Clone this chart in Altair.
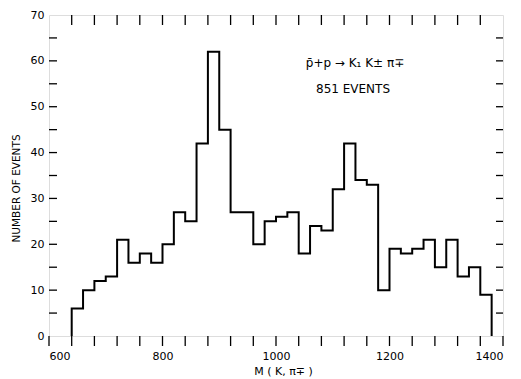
import altair as alt
import pandas as pd

# Histogram: bin left edges (MeV) and counts, 20 MeV bins
bin_edges = [640, 660, 680, 700, 720, 740, 760, 780, 800, 820, 840, 860, 880, 900,
             920, 940, 960, 980, 1000, 1020, 1040, 1060, 1080, 1100, 1120, 1140,
             1160, 1180, 1200, 1220, 1240, 1260, 1280, 1300, 1320, 1340, 1360]
counts = [6, 10, 12, 13, 21, 16, 18, 16, 20, 27, 25, 42, 62, 45,
          27, 27, 20, 25, 26, 27, 18, 24, 23, 32, 42, 34,
          33, 10, 19, 18, 19, 21, 15, 21, 13, 15, 9]
bin_width = 20

x_ticks = list(range(600, 1401, 40))
x_labels = [600, 800, 1000, 1200, 1400]
y_ticks = list(range(5, 70, 5))
y_labels = [0, 10, 20, 30, 40, 50, 60, 70]

# step outline points
xs = [bin_edges[0]] + bin_edges + [bin_edges[-1] + bin_width, bin_edges[-1] + bin_width]
ys = [0] + counts + [counts[-1], 0]
hist = pd.DataFrame({"m": xs, "n": ys, "i": list(range(len(xs)))})

W, H = 454, 321
FONT = "DejaVu Sans"

xscale = alt.Scale(domain=[600, 1400], nice=False, zero=False)
yscale = alt.Scale(domain=[0, 70], nice=False)

line = alt.Chart(hist).mark_line(
    interpolate="step-after", color="black", strokeWidth=2
).encode(
    x=alt.X("m:Q", scale=xscale, axis=alt.Axis(
        values=x_labels, format="d", labelOverlap=False,
        ticks=False, domain=False, grid=False,
        labelFont=FONT, labelFontSize=11, labelColor="black", labelPadding=14,
        title="M ( K, π∓ )", titleFont=FONT, titleFontSize=11, titleFontWeight="normal",
        titleColor="black", titleX=234, titleY=35, titleBaseline="middle")),
    y=alt.Y("n:Q", scale=yscale, axis=alt.Axis(
        values=y_labels, ticks=False, domain=False, grid=False, labelOverlap=False,
        labelFont=FONT, labelFontSize=11, labelColor="black", labelPadding=5,
        title="NUMBER OF EVENTS", titleFont=FONT, titleFontSize=10.5,
        titleFontWeight="normal", titleColor="black",
        titleX=-33, titleY=173, titleAlign="center", titleBaseline="middle")),
    order="i:Q",
)

top_ticks = alt.Chart(pd.DataFrame({"t": x_ticks[1:-1]})).mark_rule(
    color="black", strokeWidth=1.3
).encode(x=alt.X("t:Q", scale=xscale), y=alt.value(0), y2=alt.value(10))

bottom_ticks = alt.Chart(pd.DataFrame({"t": x_ticks})).mark_rule(
    color="black", strokeWidth=1.3
).encode(x=alt.X("t:Q", scale=xscale), y=alt.value(H), y2=alt.value(H + 10))

left_ticks = alt.Chart(pd.DataFrame({"t": y_ticks})).mark_rule(
    color="black", strokeWidth=1.3
).encode(y=alt.Y("t:Q", scale=yscale), x=alt.value(0), x2=alt.value(8))

right_ticks = alt.Chart(pd.DataFrame({"t": y_ticks})).mark_rule(
    color="black", strokeWidth=1.3
).encode(y=alt.Y("t:Q", scale=yscale), x=alt.value(W - 7), x2=alt.value(W))

ann1 = alt.Chart(pd.DataFrame({"s": ["p\u0304+p \u2192 K\u2081 K\u00b1 \u03c0\u2213"]})).mark_text(
    font=FONT, fontSize=12, color="black", align="center", baseline="middle"
).encode(text="s:N", x=alt.value(306), y=alt.value(48))

ann2 = alt.Chart(pd.DataFrame({"s": ["851 EVENTS"]})).mark_text(
    font=FONT, fontSize=12, color="black", align="center", baseline="middle"
).encode(text="s:N", x=alt.value(304), y=alt.value(74))

chart = alt.layer(line, top_ticks, bottom_ticks, left_ticks, right_ticks, ann1, ann2).properties(
    width=W, height=H,
    autosize=alt.AutoSizeParams(type="none"),
    padding={"left": 41, "top": 7, "right": 10, "bottom": 43},
).configure_view(stroke="black", strokeWidth=1.5).configure(background="white")

chart.save("out.html", embed_options={"renderer": "svg", "actions": False})
